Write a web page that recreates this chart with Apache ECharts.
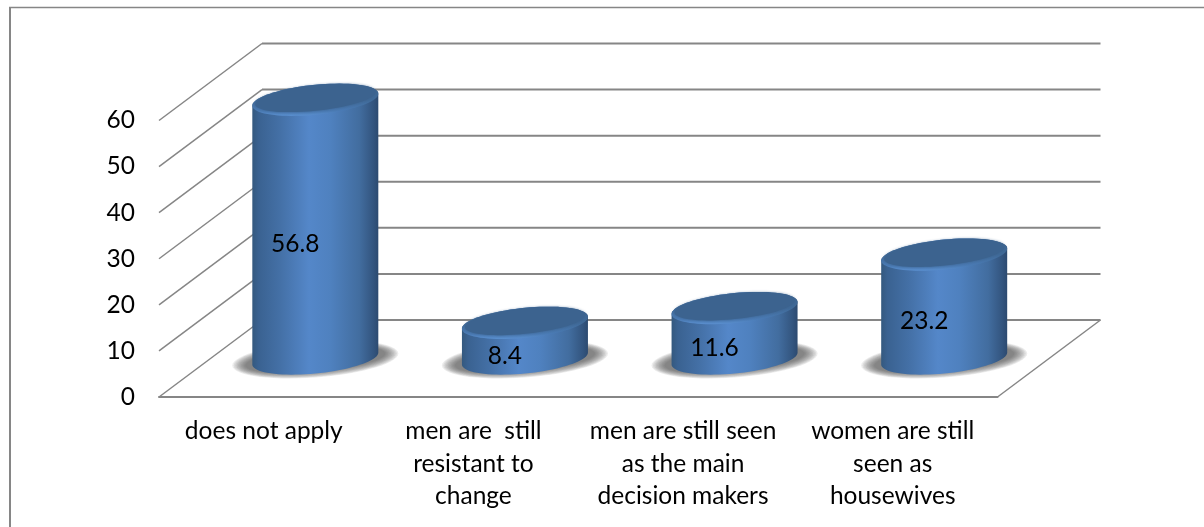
<!DOCTYPE html>
<html><head><meta charset="utf-8">
<style>html,body{margin:0;padding:0;background:#fff}#c{width:1204px;height:527px}</style>
<script src="https://cdn.jsdelivr.net/npm/echarts@6/dist/echarts.min.js"></script>
</head><body><div id="c"></div>
<script>
const categories = ['does not apply', 'men are  still\nresistant to\nchange', 'men are still seen\nas the main\ndecision makers', 'women are still\nseen as\nhousewives'];
const values = [56.8, 8.4, 11.6, 23.2];
const tickValues = [0, 10, 20, 30, 40, 50, 60];

const FONT = 'Lato';
const FS = 24.5;
const LINE = '#868686';
const DX = 103, DY = -77;          // depth of the 3D floor
const RX = 63, RY = 15, SKEW = 6;  // cylinder ellipse

function ellipse(cx, cy, a, b, s, from, to, n) {
  const pts = [];
  for (let i = 0; i <= n; i++) {
    const t = from + (to - from) * i / n;
    pts.push([cx + a * Math.cos(t), cy + b * Math.sin(t) - s * Math.cos(t)]);
  }
  return pts;
}
const lg = (x, y, x2, y2, stops) => new echarts.graphic.LinearGradient(x, y, x2, y2, stops.map(p => ({offset: p[0], color: p[1]})));

const chart = echarts.init(document.getElementById('c'), null, {renderer: 'canvas'});
chart.setOption({
  animation: false,
  backgroundColor: '#fff',
  textStyle: {fontFamily: FONT},
  graphic: [
    {type: 'line', z: -1, shape: {x1: 9, y1: 7.5, x2: 1204, y2: 7.5}, style: {stroke: LINE, lineWidth: 1.6}},
    {type: 'line', z: -1, shape: {x1: 10, y1: 7, x2: 10, y2: 527}, style: {stroke: LINE, lineWidth: 2}}
  ],
  grid: {left: 159, right: 206.5, top: 120.5, bottom: 130},
  xAxis: {
    type: 'category', data: categories,
    axisTick: {show: false},
    axisLine: {lineStyle: {color: LINE, width: 2}},
    axisLabel: {color: '#000', fontSize: FS, fontFamily: FONT, lineHeight: 32.5, margin: 18, interval: 0}
  },
  yAxis: {
    type: 'value', min: 0, max: 60, interval: 10,
    axisLine: {show: false}, axisTick: {show: false}, splitLine: {show: false},
    axisLabel: {color: '#000', fontSize: FS, fontFamily: FONT, margin: 24, padding: [4, 0, 0, 0]}
  },
  series: [
    {
      type: 'custom', z: 1, silent: true,
      data: tickValues.map(v => [0, v]),
      renderItem(params, api) {
        const y = api.coord([0, api.value(1)])[1];
        const g = params.coordSys;
        const kids = [
          {type: 'line', shape: {x1: g.x, y1: y, x2: g.x + DX, y2: y + DY}, style: {stroke: LINE, lineWidth: 1.5}},
          {type: 'line', shape: {x1: g.x + DX, y1: y + DY, x2: g.x + g.width + DX, y2: y + DY}, style: {stroke: LINE, lineWidth: 2}}
        ];
        if (api.value(1) === 0) {
          kids.push({type: 'line', shape: {x1: g.x + g.width, y1: y, x2: g.x + g.width + DX, y2: y + DY}, style: {stroke: LINE, lineWidth: 1.5}});
        }
        return {type: 'group', children: kids};
      }
    },
    {
      type: 'custom', z: 2, silent: true,
      data: categories.map((c, i) => [i, values[i]]),
      renderItem(params, api) {
        const v = api.value(1);
        const p0 = api.coord([api.value(0), 0]);
        const pv = api.coord([api.value(0), v]);
        const cx = p0[0] + DX / 2;
        const by = p0[1] + DY / 2;
        const ty = pv[1] + DY / 2 + 3;
        const topU = ellipse(cx, ty, RX, RY, SKEW, Math.PI, 2 * Math.PI, 40);
        const baseL = ellipse(cx, by, RX, RY, SKEW, 0, Math.PI, 40);
        const cap = ellipse(cx, ty, RX, RY, SKEW, 0, 2 * Math.PI, 80);
        const inner = ellipse(cx, ty - 1.5, RX - 3, RY - 2.5, SKEW, 0, 2 * Math.PI, 80);
        const kids = [];
        const LAYERS = 10;
        for (let k = 0; k < LAYERS; k++) {
          const f = k / (LAYERS - 1);
          kids.push({type: 'polygon', shape: {points: ellipse(cx, by + 1, RX + 20 - 13 * f, RY + 3 - 6 * f, SKEW, 0, 2 * Math.PI, 60)},
            style: {fill: 'rgba(85,85,85,0.11)'}});
        }
        kids.push(
          {type: 'polygon', shape: {points: topU.concat(baseL)}, style: {fill: lg(0, 0, 1, 0, [
            [0, '#34597f'], [0.05, '#3a6291'], [0.22, '#4470a6'], [0.45, '#5487c9'], [0.62, '#4f81bf'], [0.85, '#426d9f'], [0.96, '#33557f'], [1, '#2c4a70']
          ])}},
          {type: 'polygon', shape: {points: cap}, style: {fill: lg(0, 0, 0, 1, [
            [0, '#3c638f'], [0.5, '#3f6997'], [0.85, '#4a7bb5'], [1, '#5a8fcf']
          ])}},
          {type: 'polygon', shape: {points: inner}, style: {fill: '#3c638f', shadowColor: '#3c638f', shadowBlur: 3}},
          {type: 'text', style: {text: String(v), x: cx - 20, y: (ty + by) / 2 + 15, align: 'center', verticalAlign: 'middle', fill: '#000', fontSize: FS, fontFamily: FONT}}
        );
        return {type: 'group', children: kids};
      }
    }
  ]
});
</script></body></html>
